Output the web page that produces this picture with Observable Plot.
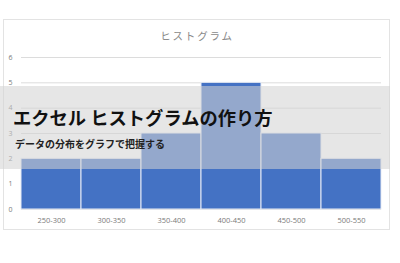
<!DOCTYPE html>
<html>
<head>
<meta charset="utf-8">
<script src="https://cdn.jsdelivr.net/npm/d3@7"></script>
<script src="https://cdn.jsdelivr.net/npm/@observablehq/plot@0.6"></script>
<style>
  html, body { margin: 0; padding: 0; background: #fff; }
  body { width: 400px; height: 263px; overflow: hidden; font-family: "Noto Sans CJK JP", "Noto Sans", sans-serif; }
  #wrap { position: relative; width: 400px; height: 263px; }
  #frame { position: absolute; left: 3px; top: 19px; width: 385px; height: 209px; border: 1px solid #e3e3e3; box-sizing: content-box; pointer-events: none; }
  #ctitle { position: absolute; left: 0; width: 394px; top: 28px; text-align: center; font-size: 10.5px; letter-spacing: 1.8px; color: #8a8a8a; font-family: "Noto Sans CJK JP", sans-serif; }
  #banner { position: absolute; left: 0; top: 86px; width: 390px; height: 83px; background: rgba(210,210,210,0.56); }
  #btitle { position: absolute; left: 13px; top: 107px; font-size: 18.3px; font-weight: bold; color: #111; white-space: nowrap; line-height: 1.2; font-family: "Noto Sans CJK JP", sans-serif; }
  #bsub { position: absolute; left: 15px; top: 138px; font-size: 10px; font-weight: bold; color: #222; white-space: nowrap; line-height: 1.2; font-family: "Noto Sans CJK JP", sans-serif; }
  svg { position: absolute; left: 0; top: 0; }
</style>
</head>
<body>
<div id="wrap"></div>
<script>
const chartTitle = "ヒストグラム";
const bannerTitle = "エクセル ヒストグラムの作り方";
const bannerSubtitle = "データの分布をグラフで把握する";
const bins = ["250-300", "300-350", "350-400", "400-450", "450-500", "500-550"];
const counts = [2, 2, 3, 5, 3, 2];
const yTicks = [0, 1, 2, 3, 4, 5, 6];

const data = bins.map((b, i) => ({bin: b, count: counts[i]}));

const chart = Plot.plot({
  width: 400,
  height: 263,
  marginLeft: 21,
  marginRight: 19,
  marginTop: 57,
  marginBottom: 54,
  style: {fontFamily: "'Open Sans', 'Noto Sans', sans-serif", fontSize: "7px", color: "#7a7a7a", background: "transparent"},
  x: {domain: bins, padding: 0, label: null, tickSize: 0, tickPadding: 8},
  y: {domain: [0, 6], ticks: yTicks, label: null, tickSize: 0, tickPadding: 8},
  marks: [
    Plot.gridY(yTicks, {stroke: "#dcdcdc", strokeOpacity: 1, strokeWidth: 1}),
    Plot.barY(data, {x: "bin", y: "count", fill: "#4472C4", stroke: "#e8ecf5", strokeWidth: 1}),
    Plot.axisX({tickSize: 0, tickPadding: 8, fill: "#7a7a7a", fontSize: 7.5}),
    Plot.axisY({ticks: yTicks, tickFormat: "d", tickSize: 0, tickPadding: 8, fill: "#7a7a7a", textAnchor: "middle", dx: -3})
  ]
});

const wrap = document.getElementById("wrap");
wrap.appendChild(chart);

const frame = document.createElement("div");
frame.id = "frame";
wrap.appendChild(frame);

const ct = document.createElement("div");
ct.id = "ctitle";
ct.textContent = chartTitle;
wrap.appendChild(ct);

const banner = document.createElement("div");
banner.id = "banner";
wrap.appendChild(banner);

const bt = document.createElement("div");
bt.id = "btitle";
bt.textContent = bannerTitle;
wrap.appendChild(bt);

const bs = document.createElement("div");
bs.id = "bsub";
bs.textContent = bannerSubtitle;
wrap.appendChild(bs);
</script>
</body>
</html>
